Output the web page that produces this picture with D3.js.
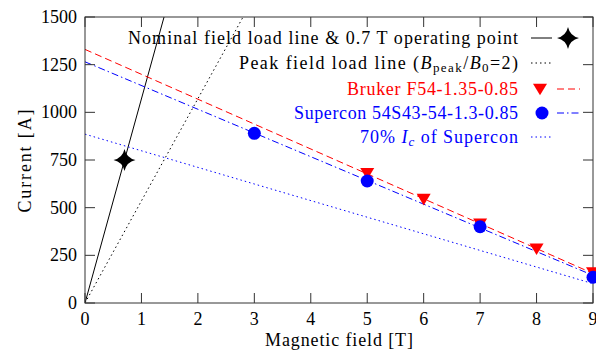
<!DOCTYPE html>
<html><head><meta charset="utf-8">
<script src="https://cdn.jsdelivr.net/npm/d3@7"></script>
<style>body{margin:0;background:#fff}text{font-family:"Liberation Serif","DejaVu Serif",serif;}</style>
</head><body><svg id="c" width="596" height="350"></svg>
<script>
const xTicks=[0,1,2,3,4,5,6,7,8,9];
const yTicks=[0,250,500,750,1000,1250,1500];
const brukerB=[5,6,7,8,9];
const brukerI=[680,545,415,285,160];
const superB=[3,5,7,9];
const superI=[890,640,400,135];
const nominalSlope=1071;      // A/T
const peakSlope=535.7;        // A/T
const operatingPoint=[0.7,750];
const brukerFit=[1330,155];   // current at 0 T, 9 T
const superFit=[1265,145];
const fraction70=0.7;

const FS=18;
const svg=d3.select("#c");
const L=85,R=593,T=17,B=303;
const x=d3.scaleLinear().domain([0,9]).range([L,R]);
const y=d3.scaleLinear().domain([0,1500]).range([B,T]);
const ax="#333";
svg.append("defs").append("clipPath").attr("id","clip").append("rect").attr("x",L).attr("y",T).attr("width",R-L).attr("height",B-T);
const g=svg.append("g").attr("clip-path","url(#clip)");
const line=d3.line().x(d=>x(d[0])).y(d=>y(d[1]));
function seg(pts,col,dash){g.append("path").attr("d",line(pts)).attr("fill","none").attr("stroke",col).attr("stroke-width",1).attr("stroke-dasharray",dash||null);}
seg([[0,0],[1500/nominalSlope,1500]],"#000");
seg([[0,0],[1500/peakSlope,1500]],"#000","1.5,3");
seg([[0,brukerFit[0]],[9,brukerFit[1]]],"#f00","7,4");
seg([[0,superFit[0]],[9,superFit[1]]],"#00f","7,3,1.5,3");
seg([[0,superFit[0]*fraction70],[9,superFit[1]*fraction70]],"#00f","1.5,3");

// frame and ticks
svg.append("rect").attr("x",L).attr("y",T).attr("width",R-L).attr("height",B-T).attr("fill","none").attr("stroke",ax).attr("stroke-width",1);
const tl=10;
xTicks.forEach(v=>{
  svg.append("line").attr("x1",x(v)).attr("x2",x(v)).attr("y1",B).attr("y2",B-tl).attr("stroke",ax);
  svg.append("line").attr("x1",x(v)).attr("x2",x(v)).attr("y1",T).attr("y2",T+tl).attr("stroke",ax);
  svg.append("text").attr("x",x(v)).attr("y",B+22).attr("text-anchor","middle").attr("font-size",FS).text(v);
});
yTicks.forEach(v=>{
  svg.append("line").attr("x1",L).attr("x2",L+tl).attr("y1",y(v)).attr("y2",y(v)).attr("stroke",ax);
  svg.append("line").attr("x1",R).attr("x2",R-tl).attr("y1",y(v)).attr("y2",y(v)).attr("stroke",ax);
  svg.append("text").attr("x",L-8).attr("y",y(v)+6).attr("text-anchor","end").attr("font-size",FS).text(v);
});
svg.append("text").attr("x",339).attr("y",346).attr("text-anchor","middle").attr("font-size",FS)
  .attr("textLength",148).attr("lengthAdjust","spacing").text("Magnetic field [T]");
svg.append("text").attr("transform","translate(31,161) rotate(-90)").attr("text-anchor","middle").attr("font-size",FS)
  .attr("textLength",103).attr("lengthAdjust","spacing").text("Current [A]");

// markers
function star(cx,cy,r){const a=r*0.18;return `M${cx},${cy-r}Q${cx+a},${cy-a} ${cx+r},${cy}Q${cx+a},${cy+a} ${cx},${cy+r}Q${cx-a},${cy+a} ${cx-r},${cy}Q${cx-a},${cy-a} ${cx},${cy-r}Z`;}
function tri(cx,cy,s){return `M${cx-s},${cy-s*0.75}L${cx+s},${cy-s*0.75}L${cx},${cy+s*0.9}Z`;}
svg.append("path").attr("d",star(x(operatingPoint[0]),y(operatingPoint[1]),11)).attr("fill","#000");
brukerB.forEach((b,i)=>svg.append("path").attr("d",tri(x(b),y(brukerI[i]),7)).attr("fill","#f00"));
superB.forEach((b,i)=>svg.append("circle").attr("cx",x(b)).attr("cy",y(superI[i])).attr("r",6.5).attr("fill","#00f"));

// legend
const lx=518, rows=[38,63,89,113,137], widths=[390,279,171,224,158];
function ltext(i,col){return svg.append("text").attr("x",lx).attr("y",rows[i]+6).attr("text-anchor","end").attr("font-size",FS).attr("fill",col)
  .attr("textLength",widths[i]).attr("lengthAdjust","spacing");}
ltext(0,"#000").text("Nominal field load line & 0.7 T operating point");
const t2=ltext(1,"#000");
t2.append("tspan").text("Peak field load line (");
t2.append("tspan").attr("font-style","italic").text("B");
t2.append("tspan").attr("font-size",13).attr("dy",3).text("peak");
t2.append("tspan").attr("dy",-3).text("/");
t2.append("tspan").attr("font-style","italic").text("B");
t2.append("tspan").attr("font-size",13).attr("dy",3).text("0");
t2.append("tspan").attr("dy",-3).text("=2)");
ltext(2,"#f00").text("Bruker F54-1.35-0.85");
ltext(3,"#00f").text("Supercon 54S43-54-1.3-0.85");
const t5=ltext(4,"#00f");
t5.append("tspan").text("70% ");
t5.append("tspan").attr("font-style","italic").text("I");
t5.append("tspan").attr("font-style","italic").attr("font-size",13).attr("dy",3).text("c");
t5.append("tspan").attr("dy",-3).text(" of Supercon");
function lline(i,x1,x2,col,dash){svg.append("line").attr("x1",x1).attr("x2",x2).attr("y1",rows[i]).attr("y2",rows[i]).attr("stroke",col).attr("stroke-dasharray",dash||null);}
lline(0,531,552,"#000");
svg.append("path").attr("d",star(568,rows[0],11)).attr("fill","#000");
lline(1,531,552,"#000","1.5,3");
svg.append("path").attr("d",tri(540,rows[2],7)).attr("fill","#f00");
lline(2,557,580,"#f00","7,4");
svg.append("circle").attr("cx",542).attr("cy",rows[3]).attr("r",6.5).attr("fill","#00f");
lline(3,557,580,"#00f","7,3,1.5,3");
lline(4,531,552,"#00f","1.5,3");
</script></body></html>
